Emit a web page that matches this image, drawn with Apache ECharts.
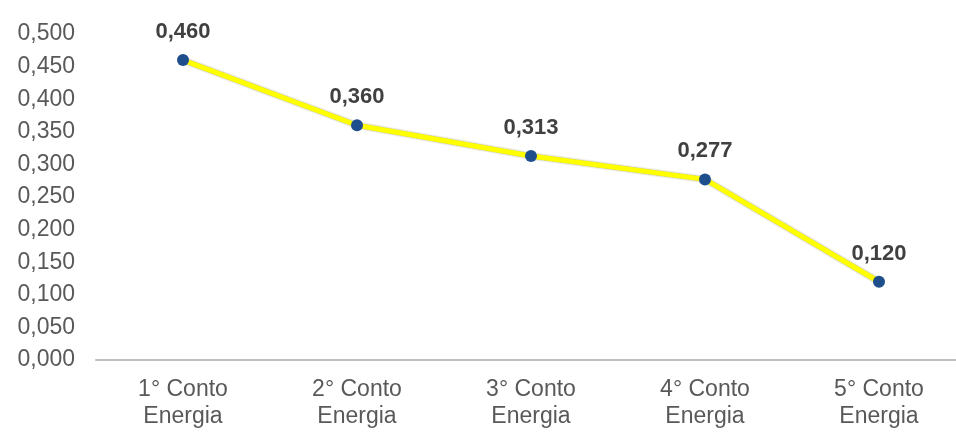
<!DOCTYPE html>
<html>
<head>
<meta charset="utf-8">
<script src="https://cdn.jsdelivr.net/npm/echarts@6/dist/echarts.min.js"></script>
<style>
  html, body { margin: 0; padding: 0; background: #fff; overflow: hidden; }
  #chart { width: 966px; height: 432px; }
</style>
</head>
<body>
<div id="chart"></div>
<script>
const categories = ['1° Conto\nEnergia', '2° Conto\nEnergia', '3° Conto\nEnergia', '4° Conto\nEnergia', '5° Conto\nEnergia'];
const values = [0.460, 0.360, 0.313, 0.277, 0.120];
const yMin = 0;
const yMax = 0.5;
const yStep = 0.05;

const fmt = v => v.toFixed(3).replace('.', ',');

// the plot runs a little past the right edge of the window, as in the original
const chart = echarts.init(document.getElementById('chart'));
chart.setOption({
  animation: false,
  grid: { left: 96, top: 34, bottom: 72, right: 0, containLabel: false },
  xAxis: {
    type: 'category',
    data: categories,
    boundaryGap: true,
    axisLine: { lineStyle: { color: '#bfbfbf', width: 2 } },
    axisTick: { show: false },
    axisLabel: {
      color: '#595959',
      fontFamily: 'Liberation Sans',
      fontSize: 23,
      lineHeight: 27,
      margin: 16
    }
  },
  yAxis: {
    type: 'value',
    min: yMin,
    max: yMax,
    interval: yStep,
    axisLine: { show: false },
    axisTick: { show: false },
    splitLine: { show: false },
    axisLabel: {
      color: '#595959',
      fontFamily: 'Liberation Sans',
      fontSize: 23,
      margin: 21,
      formatter: fmt
    }
  },
  series: [{
    type: 'line',
    data: values,
    symbol: 'circle',
    symbolSize: 12,
    itemStyle: { color: '#1f4e8c' },
    lineStyle: {
      color: '#ffff00',
      width: 5,
      shadowColor: 'rgba(90,90,0,0.6)',
      shadowBlur: 2
    },
    label: {
      show: true,
      position: 'top',
      distance: 11,
      color: '#404040',
      fontFamily: 'Liberation Sans',
      fontWeight: 'bold',
      fontSize: 22,
      formatter: p => fmt(p.value)
    }
  }]
});
</script>
</body>
</html>
